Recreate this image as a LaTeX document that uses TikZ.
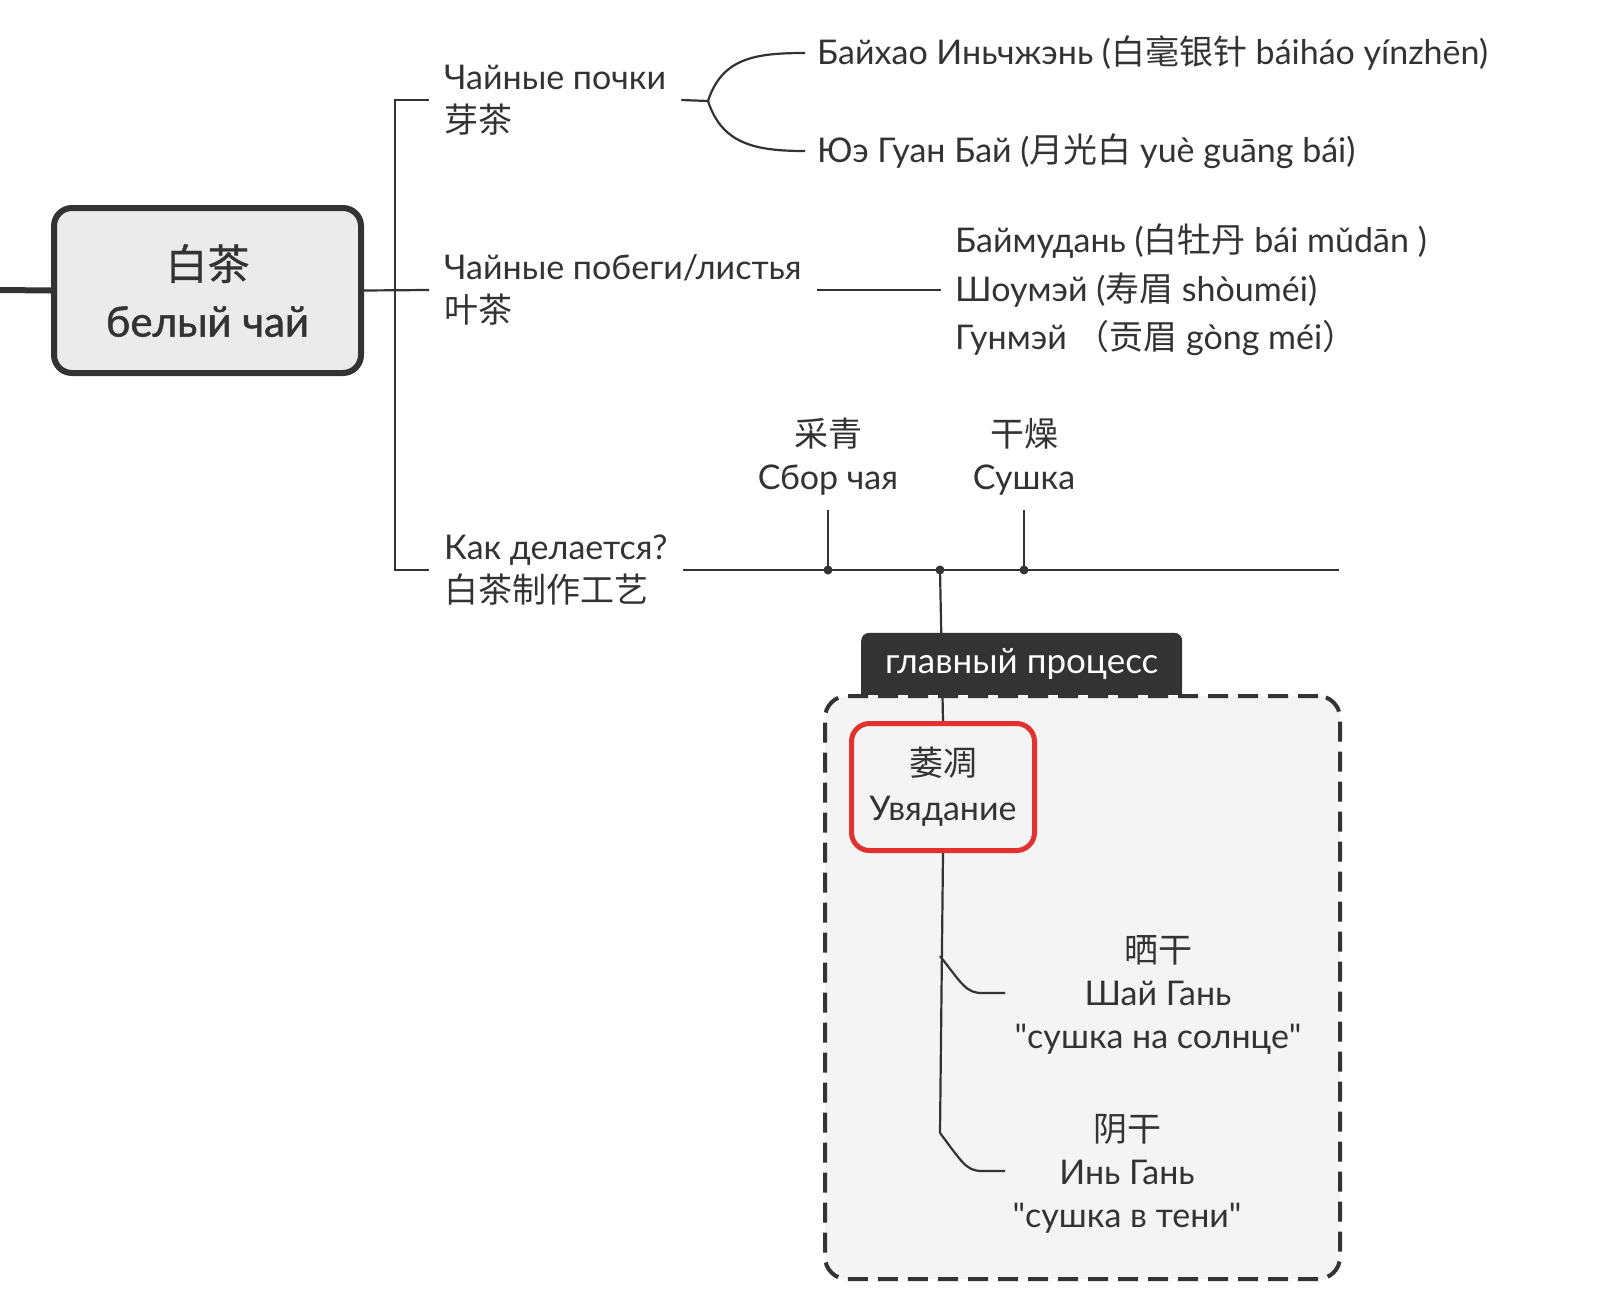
\documentclass[tikz,border=0pt]{standalone}
\usepackage{fontspec}
\setmainfont{Lato}
\newfontfamily\latoplain{Lato}
\newfontfamily\latomed{Lato}[FakeBold=1.2]
\newfontfamily\cjk{Noto Sans CJK SC}
\newfontfamily\cjkmed{Noto Sans CJK SC}[FakeBold=0.8]
\newcommand\zh[1]{{\cjk #1}}
\newcommand\qt{{\latoplain"}}
\usetikzlibrary{calc}
\definecolor{ink}{HTML}{333333}
\definecolor{rootfill}{HTML}{EBEBEB}
\definecolor{framefill}{HTML}{F4F4F4}
\definecolor{redline}{HTML}{E2312F}
\tikzset{
  conn/.style={draw=ink, line width=2.2pt},
  lbl/.style={text=ink, font=\fontsize{34}{43}\selectfont, inner xsep=15pt, inner ysep=0pt, align=left},
  rootbox/.style={draw=ink, line width=6pt, fill=rootfill, rounded corners=18pt, text=ink, align=center,
    font=\fontsize{42}{57}\selectfont\latomed},
  frame/.style={draw=ink, line width=4pt, dash pattern=on 20pt off 10pt, fill=framefill, rounded corners=22pt},
  tabbox/.style={fill=ink, rounded corners=8pt, text=white, font=\fontsize{35}{40}\selectfont},
  redbox/.style={draw=redline, line width=5pt, fill=framefill, rounded corners=18pt, text=ink, align=center,
    font=\fontsize{34}{45}\selectfont},
  dot/.style={fill=ink}
}
\begin{document}
\begin{tikzpicture}[x=1pt,y=-1pt]
\useasboundingbox (0,0) rectangle (1608,1290);
\fill[white] (0,0) rectangle (1608,1290);

% root
\node[rootbox, minimum width=307pt, minimum height=165pt] (root) at (207.5,290.5) {{\cjkmed 白茶}\\белый чай};
\coordinate (leftend) at (0,290);
\draw[draw=ink, line width=6pt] (leftend) -- (root.west);

% first level labels
\node[lbl, anchor=west] (buds) at (429,100) {Чайные почки\\\zh{芽茶}};
\node[lbl, anchor=west] (leaves) at (429,290) {Чайные побеги/листья\\\zh{叶茶}};
\node[lbl, anchor=west] (how) at (429,570) {Как делается?\\\zh{白茶制作工艺}};

\draw[conn] (root.east) -- (leaves.west);
\draw[conn] (buds.west) -- ++(-34,0) |- (how.west);

% buds children
\node[lbl, anchor=west, inner xsep=12pt] (bh) at (805,53) {Байхао Иньчжэнь (\zh{白毫银针} báiháo yínzhēn)};
\node[lbl, anchor=west, inner xsep=12pt] (yg) at (805,151) {Юэ Гуан Бай (\zh{月光白} yuè guāng bái)};
\coordinate (bj) at (708,101);
\draw[conn] (buds.east) -- (bj);
\draw[conn] (bj) .. controls (722,58) and (755,53) .. (bh.west);
\draw[conn] (bj) .. controls (722,144) and (755,151) .. (yg.west);

% leaves children
\node[lbl, anchor=west, inner xsep=14pt, font=\fontsize{34}{48.5}\selectfont] (list) at (941,290)
  {Баймудань (\zh{白牡丹} bái mǔdān )\\Шоумэй (\zh{寿眉} shòuméi)\\Гунмэй \zh{（贡眉} gòng méi\zh{）}};
\draw[conn] (leaves.east) -- (list.west);

% timeline
\coordinate (tend) at (1339,570);
\coordinate (d1) at (828,570);
\coordinate (d2) at (940,570);
\coordinate (d3) at (1024,570);
\draw[conn] (how.east) -- (tend);
\node[lbl, align=center, inner xsep=0pt, inner ysep=14pt, anchor=south] (pick) at (828,510) {\zh{采青}\\Сбор чая};
\node[lbl, align=center, inner xsep=0pt, inner ysep=14pt, anchor=south] (dry) at (1024,510) {\zh{干燥}\\Сушка};
\draw[conn] (d1) -- (pick.south);
\draw[conn] (d3) -- (dry.south);

% main process frame
\node[frame, minimum width=515pt, minimum height=583pt, anchor=north west] (proc) at (823,694) {};
\node[redbox, minimum width=183pt, minimum height=127pt, anchor=north west] (wither) at (849,721) {\zh{萎凋}\\Увядание};
\draw[conn] (d2) -- (wither.north);
\node[tabbox, minimum width=321pt, minimum height=62pt, anchor=south west] (tab) at (861,695) {главный процесс};
\fill[ink] (861,684) rectangle (873,695);
\fill[ink] (1170,684) rectangle (1182,695);
\foreach \d in {d1,d2,d3} \fill[dot] (\d) circle (4.5pt);

% drying branches
\node[lbl, align=center, inner xsep=13pt] (sun) at (1158,995) {\zh{晒干}\\Шай Гань\\\qt сушка на солнце\qt};
\node[lbl, align=center, inner xsep=13pt] (shade) at (1127,1174) {\zh{阴干}\\Инь Гань\\\qt сушка в тени\qt};
\coordinate (b1) at (940,956);
\coordinate (b2) at (940,1133);
\draw[conn] (wither.south) -- (b2);
\draw[conn] (b1) .. controls (962,984) and (966,993) .. (982,993) -- (1005,993);
\draw[conn] (b2) .. controls (962,1162) and (966,1171) .. (982,1171) -- (1005,1171);
\end{tikzpicture}
\end{document}
